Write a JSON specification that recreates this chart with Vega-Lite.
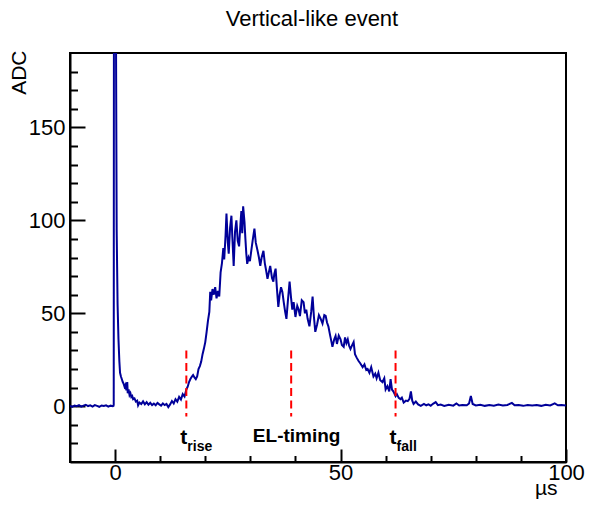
{
  "$schema": "https://vega.github.io/schema/vega-lite/v6.json",
  "width": 496,
  "height": 409,
  "autosize": "none",
  "padding": {"left": 70, "top": 53, "right": 23, "bottom": 52},
  "background": "white",
  "title": {"text": "Vertical-like event", "font": "Liberation Sans", "fontSize": 22, "fontWeight": "normal", "color": "black", "anchor": "middle", "frame": "group", "dx": -6, "offset": 2, "baseline": "alphabetic"},
  "config": {
    "view": {"stroke": "black", "strokeWidth": 2},
    "axis": {"grid": false, "domainColor": "black", "domainWidth": 2, "tickColor": "black", "tickWidth": 2, "labelFont": "Liberation Sans", "labelFontSize": 22, "labelColor": "black", "titleFont": "Liberation Sans", "titleFontSize": 21, "titleFontWeight": "normal", "titleColor": "black", "labelFlush": false, "labelOverlap": false}
  },
  "resolve": {"axis": {"y": "independent"}},
  "datasets": {
    "wave": [
      {"t": -10, "adc": 0.2}, {"t": -9.5, "adc": -0.3}, {"t": -9, "adc": 0.4}, {"t": -8.5, "adc": 0}, {"t": -8, "adc": 0.6}, {"t": -7.5, "adc": -0.2}, {"t": -7, "adc": 0.3}, {"t": -6.5, "adc": 0.8}, {"t": -6, "adc": 0.1}, {"t": -5.5, "adc": 0.5}, {"t": -5, "adc": -0.2}, {"t": -4.5, "adc": 0.6}, {"t": -4, "adc": 0.2}, {"t": -3.5, "adc": -0.3}, {"t": -3, "adc": 0.4}, {"t": -2.5, "adc": 0.1}, {"t": -2, "adc": 0.5}, {"t": -1.5, "adc": -0.2}, {"t": -1, "adc": 0.3}, {"t": -0.5, "adc": 0}, {"t": -0.35, "adc": 0.2},
      {"t": -0.3, "adc": 1}, {"t": -0.25, "adc": 260}, {"t": 0.15, "adc": 260}, {"t": 0.2, "adc": 200}, {"t": 0.35, "adc": 95}, {"t": 0.55, "adc": 55}, {"t": 0.75, "adc": 36}, {"t": 0.95, "adc": 24}, {"t": 1.1, "adc": 18}, {"t": 1.3, "adc": 16}, {"t": 1.5, "adc": 14.5}, {"t": 1.7, "adc": 13}, {"t": 1.9, "adc": 12}, {"t": 2.1, "adc": 10.5}, {"t": 2.3, "adc": 11.5}, {"t": 2.5, "adc": 8.5}, {"t": 2.7, "adc": 13}, {"t": 2.8, "adc": 7}, {"t": 3.0, "adc": 9}, {"t": 3.2, "adc": 6}, {"t": 3.4, "adc": 7}, {"t": 3.6, "adc": 5}, {"t": 3.8, "adc": 5.5}, {"t": 4.0, "adc": 3.8}, {"t": 4.3, "adc": 4.2}, {"t": 4.6, "adc": 2.5}, {"t": 4.9, "adc": 3}, {"t": 5.1, "adc": 0.5}, {"t": 5.4, "adc": 2}, {"t": 5.8, "adc": 1.2}, {"t": 6.2, "adc": 2.6}, {"t": 6.6, "adc": 1}, {"t": 7.0, "adc": 2.2}, {"t": 7.4, "adc": 0.8}, {"t": 7.8, "adc": 1.8}, {"t": 8.2, "adc": 0.6}, {"t": 8.6, "adc": 1.4}, {"t": 9.0, "adc": 0.5}, {"t": 9.4, "adc": 1.8}, {"t": 9.8, "adc": 1}, {"t": 10.2, "adc": 0.3}, {"t": 10.6, "adc": 1.5}, {"t": 11.0, "adc": 0.6}, {"t": 11.4, "adc": 1.2}, {"t": 11.8, "adc": -0.5}, {"t": 12.2, "adc": 1}, {"t": 12.6, "adc": 2.8},
      {"t": 13.0, "adc": 1.5}, {"t": 13.4, "adc": 3.8}, {"t": 13.8, "adc": 2.5}, {"t": 14.2, "adc": 5}, {"t": 14.6, "adc": 3.6}, {"t": 15.0, "adc": 6.5}, {"t": 15.4, "adc": 5.2}, {"t": 15.8, "adc": 9}, {"t": 16.1, "adc": 10.5}, {"t": 16.4, "adc": 13}, {"t": 16.7, "adc": 14.6}, {"t": 17.0, "adc": 15.8}, {"t": 17.3, "adc": 16.8}, {"t": 17.6, "adc": 15.5}, {"t": 17.9, "adc": 14.6}, {"t": 18.2, "adc": 16}, {"t": 18.5, "adc": 20}, {"t": 18.8, "adc": 21.6}, {"t": 19.1, "adc": 24}, {"t": 19.4, "adc": 28}, {"t": 19.7, "adc": 31}, {"t": 20.0, "adc": 34.5}, {"t": 20.3, "adc": 40}, {"t": 20.6, "adc": 46}, {"t": 20.9, "adc": 50.7}, {"t": 21.1, "adc": 61.5}, {"t": 21.3, "adc": 57}, {"t": 21.6, "adc": 63}, {"t": 21.9, "adc": 60}, {"t": 22.2, "adc": 64}, {"t": 22.5, "adc": 58}, {"t": 22.8, "adc": 62}, {"t": 23.1, "adc": 59}, {"t": 23.4, "adc": 72}, {"t": 23.7, "adc": 77}, {"t": 24.0, "adc": 85}, {"t": 24.2, "adc": 79}, {"t": 24.5, "adc": 92}, {"t": 24.7, "adc": 103.6}, {"t": 25.0, "adc": 88}, {"t": 25.2, "adc": 82}, {"t": 25.5, "adc": 96}, {"t": 25.8, "adc": 102.5}, {"t": 26.0, "adc": 91}, {"t": 26.3, "adc": 75.5}, {"t": 26.6, "adc": 94}, {"t": 26.9, "adc": 100}, {"t": 27.2, "adc": 89}, {"t": 27.5, "adc": 86}, {"t": 27.8, "adc": 98}, {"t": 28.0, "adc": 105}, {"t": 28.2, "adc": 93}, {"t": 28.4, "adc": 107.5}, {"t": 28.7, "adc": 99}, {"t": 28.9, "adc": 90}, {"t": 29.1, "adc": 82}, {"t": 29.3, "adc": 76.6}, {"t": 29.6, "adc": 80}, {"t": 29.9, "adc": 78}, {"t": 30.2, "adc": 83.6}, {"t": 30.5, "adc": 89}, {"t": 30.9, "adc": 95.5}, {"t": 31.2, "adc": 88}, {"t": 31.6, "adc": 83.6}, {"t": 31.9, "adc": 80}, {"t": 32.2, "adc": 75.5}, {"t": 32.5, "adc": 80}, {"t": 32.9, "adc": 83.6}, {"t": 33.2, "adc": 77}, {"t": 33.5, "adc": 73}, {"t": 33.8, "adc": 68.5}, {"t": 34.1, "adc": 72}, {"t": 34.4, "adc": 75.5}, {"t": 34.8, "adc": 69}, {"t": 35.1, "adc": 67}, {"t": 35.3, "adc": 71}, {"t": 35.6, "adc": 74}, {"t": 35.9, "adc": 63}, {"t": 36.2, "adc": 53.4}, {"t": 36.5, "adc": 60}, {"t": 36.8, "adc": 64}, {"t": 37.1, "adc": 61.5}, {"t": 37.4, "adc": 56}, {"t": 37.7, "adc": 51}, {"t": 38.0, "adc": 47}, {"t": 38.3, "adc": 56}, {"t": 38.7, "adc": 67}, {"t": 39.0, "adc": 59}, {"t": 39.3, "adc": 52}, {"t": 39.6, "adc": 56}, {"t": 40.0, "adc": 48}, {"t": 40.4, "adc": 54}, {"t": 40.7, "adc": 52}, {"t": 41.0, "adc": 48.5}, {"t": 41.4, "adc": 57}, {"t": 41.8, "adc": 56}, {"t": 42.1, "adc": 50}, {"t": 42.4, "adc": 52}, {"t": 42.7, "adc": 47}, {"t": 43.1, "adc": 43}, {"t": 43.5, "adc": 51}, {"t": 43.8, "adc": 59}, {"t": 44.1, "adc": 48}, {"t": 44.4, "adc": 40}, {"t": 44.8, "adc": 44}, {"t": 45.2, "adc": 49}, {"t": 45.6, "adc": 47}, {"t": 46.0, "adc": 44.5}, {"t": 46.4, "adc": 49}, {"t": 46.7, "adc": 48.6}, {"t": 47.0, "adc": 45}, {"t": 47.3, "adc": 43}, {"t": 47.7, "adc": 38}, {"t": 48.0, "adc": 34.5}, {"t": 48.2, "adc": 32}, {"t": 48.6, "adc": 36}, {"t": 48.9, "adc": 37.8}, {"t": 49.2, "adc": 33.5}, {"t": 49.6, "adc": 38}, {"t": 50.0, "adc": 36}, {"t": 50.3, "adc": 33}, {"t": 50.7, "adc": 32}, {"t": 51.0, "adc": 37}, {"t": 51.3, "adc": 34}, {"t": 51.6, "adc": 36}, {"t": 51.9, "adc": 32.5}, {"t": 52.2, "adc": 30.8}, {"t": 52.6, "adc": 33}, {"t": 52.9, "adc": 34.5}, {"t": 53.2, "adc": 28}, {"t": 53.6, "adc": 26}, {"t": 54.0, "adc": 24.3}, {"t": 54.4, "adc": 23}, {"t": 54.9, "adc": 21}, {"t": 55.3, "adc": 22.5}, {"t": 55.7, "adc": 19.5}, {"t": 56.0, "adc": 20}, {"t": 56.4, "adc": 18}, {"t": 56.8, "adc": 21}, {"t": 57.3, "adc": 16}, {"t": 57.7, "adc": 17.5}, {"t": 58.0, "adc": 15}, {"t": 58.4, "adc": 18}, {"t": 58.8, "adc": 14}, {"t": 59.3, "adc": 13}, {"t": 59.7, "adc": 15}, {"t": 60.0, "adc": 9}, {"t": 60.4, "adc": 10.8}, {"t": 60.8, "adc": 8}, {"t": 61.1, "adc": 14.6}, {"t": 61.4, "adc": 9}, {"t": 61.7, "adc": 8}, {"t": 62.0, "adc": 6.5}, {"t": 62.2, "adc": 5.4}, {"t": 62.5, "adc": 6.5}, {"t": 62.9, "adc": 4.5}, {"t": 63.3, "adc": 3.8}, {"t": 63.6, "adc": 4.6}, {"t": 64.0, "adc": 2}, {"t": 64.5, "adc": 3}, {"t": 64.9, "adc": 2.7}, {"t": 65.3, "adc": 4}, {"t": 65.6, "adc": 8}, {"t": 65.9, "adc": 3}, {"t": 66.2, "adc": 1.2}, {"t": 66.7, "adc": 2.5}, {"t": 67.2, "adc": 1}, {"t": 67.8, "adc": 0.2},
      {"t": 68.5, "adc": 1.2}, {"t": 69.0, "adc": 0.5}, {"t": 69.5, "adc": 1}, {"t": 70.0, "adc": 0.3}, {"t": 70.5, "adc": 1.3}, {"t": 71.1, "adc": 2.2}, {"t": 71.6, "adc": 0.6}, {"t": 72.2, "adc": 0.9}, {"t": 73, "adc": 0.2}, {"t": 74, "adc": 0.8}, {"t": 75, "adc": 0.3}, {"t": 75.7, "adc": 1.5}, {"t": 76.3, "adc": 0.4}, {"t": 77, "adc": 0.7}, {"t": 78, "adc": 0.5}, {"t": 78.5, "adc": 1.5}, {"t": 78.9, "adc": 5.5}, {"t": 79.3, "adc": 1.2}, {"t": 80, "adc": 0.4}, {"t": 81, "adc": 0.8}, {"t": 82, "adc": 0.2}, {"t": 83, "adc": 0.6}, {"t": 84, "adc": 0.3}, {"t": 85, "adc": 0.9}, {"t": 86, "adc": 0.4}, {"t": 87, "adc": 0.7}, {"t": 88, "adc": 1.8}, {"t": 88.6, "adc": 0.5}, {"t": 89.5, "adc": 0.6}, {"t": 90.5, "adc": 0.2}, {"t": 91.5, "adc": 0.7}, {"t": 92.5, "adc": 0.4}, {"t": 93.5, "adc": 0.6}, {"t": 94.5, "adc": 0.2}, {"t": 95.5, "adc": 0.8}, {"t": 96.5, "adc": 0.4}, {"t": 97.5, "adc": 1.5}, {"t": 98.2, "adc": 0.5}, {"t": 99, "adc": 0.7}, {"t": 100, "adc": 0.4}
    ],
    "markers": [
      {"name": "rise", "t": 15.8, "sub": "rise"},
      {"name": "EL", "t": 39.05, "sub": ""},
      {"name": "fall", "t": 62.2, "sub": "fall"}
    ]
  },
  "layer": [
    {
      "data": {"name": "wave"},
      "mark": {"type": "line", "color": "#000099", "strokeWidth": 2, "clip": true, "interpolate": "linear"},
      "encoding": {
        "x": {"field": "t", "type": "quantitative", "scale": {"domain": [-10, 100], "nice": false, "zero": false},
          "axis": {"title": "µs", "values": [0, 10, 20, 30, 40, 50, 60, 70, 80, 90, 100], "labelExpr": "datum.value % 50 === 0 ? datum.label : ''", "labelOverlap": false, "labelFlush": false,
            "labelFontSize": {"condition": {"test": "datum.value % 50 === 0", "value": 22}, "value": 1},
            "tickSize": {"condition": {"test": "datum.value % 50 === 0", "value": -13}, "value": -6.5},
            "labelPadding": 13, "titleAnchor": "end", "titleAlign": "right", "titleBaseline": "alphabetic", "titleX": 487, "titleY": 32}},
        "y": {"field": "adc", "type": "quantitative", "scale": {"domain": [-30, 190], "nice": false, "zero": false},
          "axis": {"orient": "left", "title": "ADC", "values": [0, 50, 100, 150], "labelOverlap": false, "tickSize": -15,
            "labelPadding": 20, "titleAnchor": "end", "titleAngle": 270, "titleAlign": "right", "titleBaseline": "alphabetic", "titleX": -45, "titleY": -3}}
      }
    },
    {
      "data": {"name": "markers"},
      "mark": {"type": "rule", "color": "#ff0000", "strokeWidth": 2, "strokeDash": [8, 4.5]},
      "encoding": {
        "x": {"field": "t", "type": "quantitative"},
        "y": {"datum": 30, "type": "quantitative",
          "axis": {"orient": "left", "title": null, "values": [-20, -10, 10, 20, 30, 40, 60, 70, 80, 90, 110, 120, 130, 140, 160, 170, 180], "labels": false, "domain": false, "tickSize": -7.5}},
        "y2": {"datum": -5.5}
      }
    },
    {
      "data": {"name": "markers"},
      "transform": [{"filter": "datum.sub !== ''"}],
      "mark": {"type": "text", "text": "t", "font": "Liberation Sans", "fontWeight": "bold", "fontSize": 21, "align": "right", "baseline": "alphabetic", "dx": 1, "color": "black"},
      "encoding": {
        "x": {"field": "t", "type": "quantitative"},
        "y": {"datum": -20.5, "type": "quantitative", "axis": null}
      }
    },
    {
      "data": {"name": "markers"},
      "transform": [{"filter": "datum.sub !== ''"}],
      "mark": {"type": "text", "font": "Liberation Sans", "fontWeight": "bold", "fontSize": 14, "align": "left", "baseline": "alphabetic", "dx": 1, "color": "black"},
      "encoding": {
        "x": {"field": "t", "type": "quantitative"},
        "y": {"datum": -24.2, "type": "quantitative", "axis": null},
        "text": {"field": "sub"}
      }
    },
    {
      "data": {"name": "markers"},
      "transform": [{"filter": "datum.name === 'EL'"}],
      "mark": {"type": "text", "text": "EL-timing", "font": "Liberation Sans", "fontWeight": "bold", "fontSize": 19, "align": "center", "baseline": "alphabetic", "dx": 5.5, "color": "black"},
      "encoding": {
        "x": {"field": "t", "type": "quantitative"},
        "y": {"datum": -19.3, "type": "quantitative", "axis": null}
      }
    }
  ]
}
